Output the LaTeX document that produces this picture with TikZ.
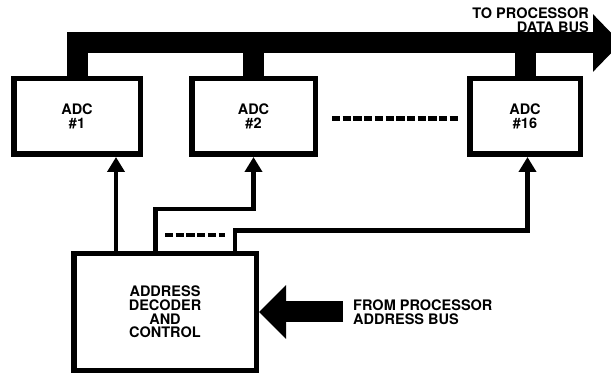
\documentclass[tikz,border=0pt]{standalone}
\usepackage{fontspec}
\setsansfont{TeX Gyre Heros}
\usetikzlibrary{arrows.meta,positioning,calc}

\begin{document}
\begin{tikzpicture}[
    x=1pt, y=-1pt,
    font=\sffamily\bfseries\fontsize{14.5}{13.7}\selectfont,
    adc/.style={rectangle, draw=black, line width=5.5pt, minimum width=123.5pt,
      minimum height=75.5pt, align=center, inner sep=0pt},
    ctrl/.style={rectangle, draw=black, line width=5.5pt, minimum width=182.5pt,
      minimum height=116.5pt, align=center, inner sep=0pt},
    sig/.style={line width=4.3pt, draw=black, line join=miter,
      -{Triangle[length=15pt,width=17pt]}},
    bus/.style={line width=21pt, draw=black, line join=miter},
    gap/.style={line width=4.5pt, draw=black, dash pattern=on 8.3pt off 2.4pt},
    lbl/.style={inner sep=0pt}
  ]
  \useasboundingbox (0,0) rectangle (611,374);
  \clip (0,0) rectangle (611,374);
  \node[adc, minimum width=126.5pt] (adc1) at (77,116.5) {ADC\\\#1};
  \node[adc, right=46pt of adc1] (adc2) {ADC\\\#2};
  \node[adc, minimum width=110.5pt, right=149pt of adc2] (adc16) {ADC\\\#16};
  \node[ctrl] (dec) at (165,312) {ADDRESS\\DECODER\\AND\\CONTROL};
  \coordinate (a1) at ([xshift=39pt]adc1.south);
  \coordinate (a2) at (adc2.south);
  \coordinate (a16) at ([xshift=2.5pt]adc16.south);
  \coordinate (d2) at ([xshift=-9.5pt]dec.north);
  \coordinate (d3) at ([xshift=70pt]dec.north);
  \draw[sig] (a1 |- dec.north) -- (a1);
  \draw[sig] (d2) -- ++(0,-42) -| (a2);
  \draw[sig] (d3) -- ++(0,-20.5) -| (a16);
  \draw[gap] ([xshift=14pt,yshift=-2pt]adc2.east) -- ([xshift=-9pt,yshift=-2pt]adc16.west);
  \draw[gap, line width=4pt] ([xshift=9.5pt,yshift=16pt]d2) -- ([xshift=-10pt,yshift=16pt]d3);
  \coordinate (dbus) at (621,43);
  \draw[bus, -{Triangle[length=28pt,width=56pt]}] (adc1.north) |- (dbus);
  \draw[bus] (adc2.north) -- (adc2.north |- dbus);
  \draw[bus] (adc16.north) -- (adc16.north |- dbus);
  \node[lbl, align=right, anchor=south east] (datalbl) at (589,33) {TO PROCESSOR\\DATA BUS};
  \coordinate (abus) at ([xshift=84pt]dec.east);
  \draw[bus, -{Triangle[length=27pt,width=52pt]}] (abus) -- (dec.east);
  \node[lbl, align=left, right=10pt of abus] (addrlbl) {FROM PROCESSOR\\ADDRESS BUS};
\end{tikzpicture}
\end{document}
